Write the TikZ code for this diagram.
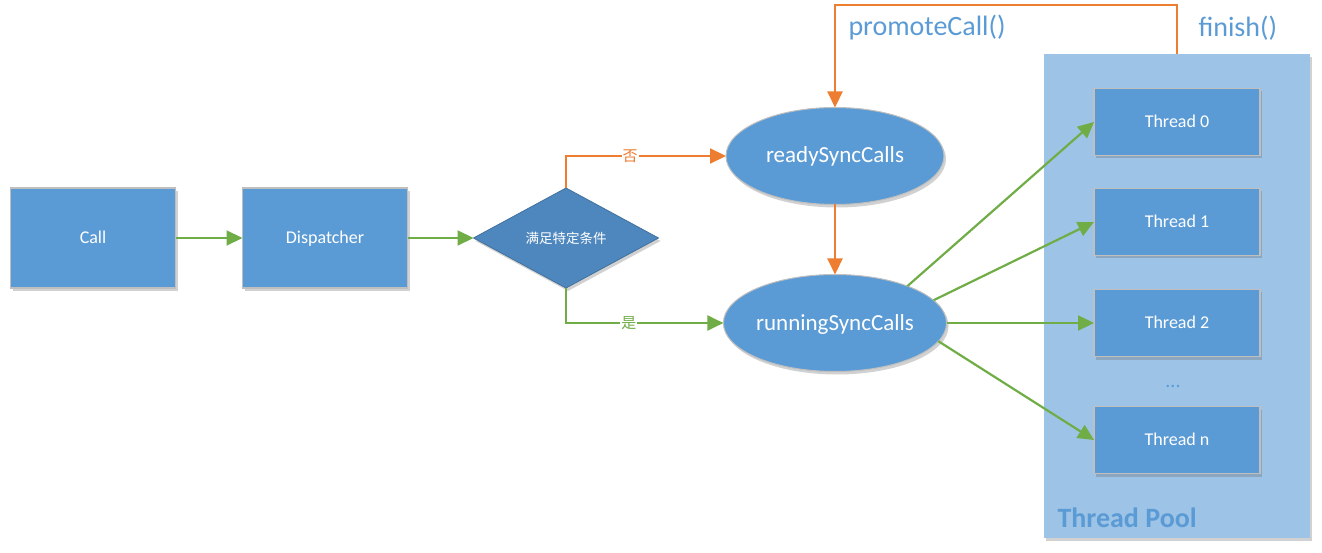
\documentclass[tikz,border=0pt]{standalone}
\usepackage{fontspec}
\setmainfont{Carlito}
\newfontfamily\cjk{Noto Sans CJK SC}
\usetikzlibrary{arrows.meta}
\usetikzlibrary{positioning,shapes.geometric,shadows}
\definecolor{boxblue}{HTML}{5B9BD5}
\definecolor{diablue}{HTML}{4E86BE}
\definecolor{diaedge}{HTML}{41719C}
\definecolor{poolblue}{HTML}{9DC3E6}
\definecolor{flowgreen}{HTML}{70AD47}
\definecolor{floworange}{HTML}{ED7D31}
\definecolor{edgegray}{HTML}{BFBFBF}
\tikzset{font={\fontsize{18pt}{21pt}\selectfont}}
\tikzset{
  softshadow/.style={drop shadow={shadow xshift=2pt, shadow yshift=-3pt, opacity=.3, fill=black!60}},
  block/.style={rectangle, fill=boxblue, draw=edgegray, line width=1.3pt, text=white,
    minimum width=165pt, minimum height=100pt, inner sep=0pt, outer sep=0pt,
    text height=11pt, text depth=0pt, softshadow},
  thread/.style={block, minimum width=166pt, minimum height=67pt},
  queue/.style={ellipse, fill=boxblue, draw=edgegray, line width=1pt, text=white,
    minimum width=218pt, minimum height=97pt, inner sep=0pt, outer sep=0pt, softshadow,
    text height=14pt, text depth=0pt, font={\fontsize{23pt}{27pt}\selectfont}},
  decision/.style={diamond, aspect=1.85, fill=diablue, draw=diaedge, line width=.8pt, text=white,
    minimum width=185pt, minimum height=100pt, inner sep=0pt, outer sep=0pt, softshadow,
    font={\fontsize{13.5pt}{16pt}\selectfont\cjk}},
  flowg/.style={draw=flowgreen, line width=2.2pt, -{Triangle[length=16pt,width=15pt]}},
  flowo/.style={draw=floworange, line width=2.2pt, -{Triangle[length=16pt,width=15pt]}},
  edgelbl/.style={fill=white, inner sep=1pt, font={\fontsize{15pt}{18pt}\selectfont\cjk}},
  calllbl/.style={text=boxblue, font={\fontsize{28pt}{32pt}\selectfont}}
}

\begin{document}
\begin{tikzpicture}[x=1pt,y=-1pt]
  \useasboundingbox (0,0) rectangle (1322,553);

  % Thread pool
  \node[rectangle, fill=poolblue, minimum width=266pt, minimum height=484pt,
    inner sep=0pt, outer sep=0pt, softshadow] (pool) at (1177,296) {};
  \node[anchor=base west, text=boxblue, font={\fontsize{28pt}{32pt}\selectfont\bfseries}]
    (poollbl) at (1054,527) {Thread Pool};

  % Define nodes
  \node[block]                     (call)   at (93,238) {Call};
  \node[block, right=67pt of call]  (disp)   {Dispatcher};
  \node[decision, right=66pt of disp] (cond) {满足特定条件};
  \node[queue]                     (ready)  at (835,156) {readySyncCalls};
  \node[queue, below=70pt of ready] (running) {runningSyncCalls};
  \node[thread]                    (t0)     at (1177,122) {Thread 0};
  \node[thread, below=33pt of t0]   (t1)     {Thread 1};
  \node[thread, below=34pt of t1]   (t2)     {Thread 2};
  \node[thread, below=50pt of t2]   (tn)     {Thread n};
  \node[text=boxblue, font={\fontsize{20pt}{24pt}\selectfont}] (dots) at (1173,386) {...};

  % Connect the nodes
  \draw[flowg] (call) -- (disp);
  \draw[flowg] (disp) -- (cond);
  \draw[flowo] (cond.north) |- (ready.west) node[edgelbl, text=floworange, pos=.7] {否};
  \draw[flowg] (cond.south) |- (running.west) node[edgelbl, text=flowgreen, pos=.7] {是};
  \draw[flowo] (ready) -- (running);
  \draw[flowg] (running.27) -- (t0.west);
  \draw[flowg] (running.13) -- (t1.west);
  \draw[flowg] (running.east) -- (t2.west);
  \draw[flowg] (running.-10) -- (tn.west);
  \draw[flowo] (pool.north) -- ++(0,-49) -| (ready.north);

  % Call labels
  \node[calllbl, anchor=west] (promote) at (845,28) {promoteCall()};
  \node[calllbl, anchor=west] (finish)  at (1195,28) {finish()};
\end{tikzpicture}
\end{document}
